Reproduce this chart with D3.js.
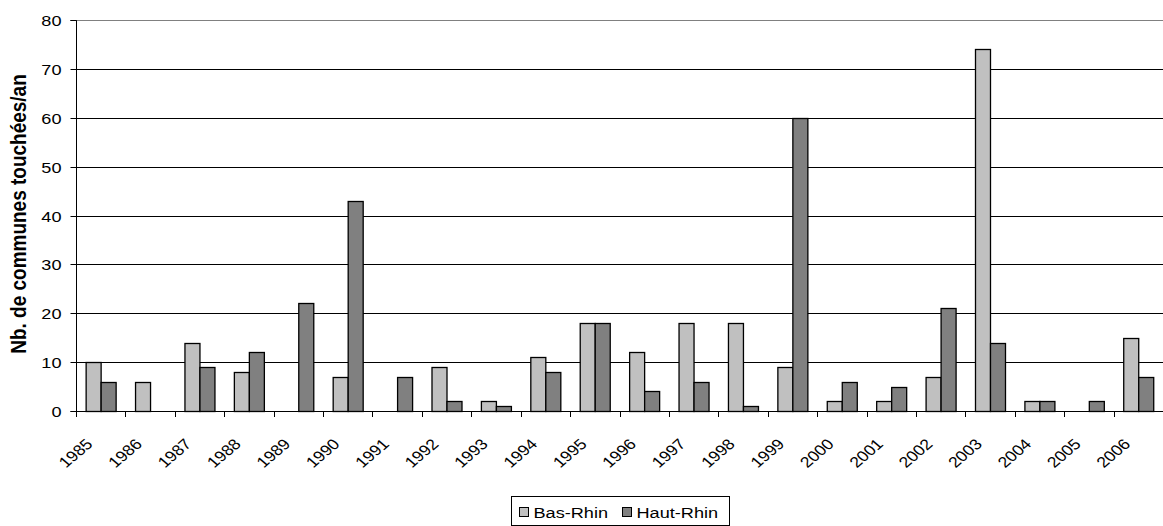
<!DOCTYPE html>
<html><head><meta charset="utf-8">
<script src="https://cdn.jsdelivr.net/npm/d3@7"></script>
<style>body{margin:0;background:#fff}svg{display:block;font-family:"Liberation Sans",Arial,sans-serif}</style>
</head><body><svg id="c" width="1163" height="526"></svg>
<script>
const years = ["1985","1986","1987","1988","1989","1990","1991","1992","1993","1994","1995","1996","1997","1998","1999","2000","2001","2002","2003","2004","2005","2006"];
const basRhin = [10,6,14,8,0,7,0,9,2,11,18,12,18,18,9,2,2,7,74,2,0,15];
const hautRhin = [6,0,9,12,22,43,7,2,1,8,18,4,6,1,60,6,5,21,14,2,2,7];
const seriesNames = ["Bas-Rhin","Haut-Rhin"];
const yTicks = [0,10,20,30,40,50,60,70,80];

const SX = 1.17; // horizontal stretch of the text in the reference
const svg = d3.select("#c");
const L = 76, R = 1163, T = 20, B = 411;
const x = d3.scaleBand().domain(years).range([L, R]).paddingInner(0.39).paddingOuter(0.195);
const xs = d3.scaleBand().domain(seriesNames).range([0, x.bandwidth()]);
const xc = d3.scaleBand().domain(years).range([L, R]);
const y = d3.scaleLinear().domain([0, 80]).range([B, T]);
const colors = {"Bas-Rhin":"#C0C0C0","Haut-Rhin":"#808080"};

// gridlines
svg.append("g").selectAll("line").data(yTicks.filter(d=>d>0)).join("line")
  .attr("x1", L).attr("x2", R).attr("y1", d=>Math.round(y(d))+0.5).attr("y2", d=>Math.round(y(d))+0.5)
  .attr("stroke", d=>d===80?"#808080":"#000").attr("stroke-width", 1);

// bars
const data = years.map((yr,i)=>({yr, vals:[{s:"Bas-Rhin",v:basRhin[i]},{s:"Haut-Rhin",v:hautRhin[i]}]}));
const g = svg.append("g").selectAll("g").data(data).join("g")
  .attr("transform", d=>`translate(${x(d.yr)},0)`);
g.selectAll("rect").data(d=>d.vals.filter(o=>o.v>0)).join("rect")
  .attr("x", d=>Math.round(xs(d.s))+0.5).attr("width", Math.round(xs.bandwidth()))
  .attr("y", d=>Math.round(y(d.v))+0.5).attr("height", d=>Math.round(y(0))-Math.round(y(d.v)))
  .attr("fill", d=>colors[d.s]).attr("stroke", "#000").attr("stroke-width", 1.3);

// y axis
const ya = svg.append("g").attr("transform", `translate(${L+0.5},0.5)`)
  .call(d3.axisLeft(y).tickValues(yTicks).tickSize(6).tickPadding(8));
ya.select(".domain").attr("stroke","#000").attr("d", `M-6,${Math.round(y(80))}H0V${Math.round(y(0))}H-6`);
ya.selectAll(".tick line").attr("stroke","#000");
ya.selectAll(".tick").attr("transform", d=>`translate(0,${Math.round(y(d))})`);
ya.selectAll(".tick text").remove();
ya.selectAll(".tick").append("text")
  .attr("transform", `translate(-15,0) scale(${SX},1)`).attr("dy","0.35em")
  .attr("text-anchor","end").attr("font-size", 15.5).attr("fill","#000")
  .attr("font-family","Liberation Sans, Arial, sans-serif").text(d=>d);

// x axis baseline + ticks at category boundaries
const xa = svg.append("g");
xa.append("line").attr("x1", L).attr("x2", R).attr("y1", B+0.5).attr("y2", B+0.5).attr("stroke","#000");
xa.selectAll("line.t").data(years.concat(["end"])).join("line").attr("class","t")
  .attr("x1", (d,i)=>Math.round(L + i*xc.step())+0.5).attr("x2", (d,i)=>Math.round(L + i*xc.step())+0.5)
  .attr("y1", B).attr("y2", B+6).attr("stroke","#000");
xa.selectAll("text").data(years).join("text")
  .attr("transform", d=>`translate(${xc(d)+xc.bandwidth()/2-7},${B+34}) scale(${SX},1) rotate(-45)`)
  .attr("text-anchor","end").attr("font-size", 15).attr("fill","#000").text(d=>d);

// y title
svg.append("text").attr("transform", `translate(26,${214}) scale(${SX},1) rotate(-90)`)
  .attr("text-anchor","middle").attr("font-size", 19).attr("font-weight","bold").text("Nb. de communes touchées/an");

// legend
const lg = svg.append("g").attr("transform","translate(511.5,496.5)");
lg.append("rect").attr("width", 218).attr("height", 29).attr("fill","#fff").attr("stroke","#000");
const items = [{s:"Bas-Rhin",x:8},{s:"Haut-Rhin",x:111}];
items.forEach(it=>{
  lg.append("rect").attr("x", it.x).attr("y", 11).attr("width", 9).attr("height", 9).attr("fill", colors[it.s]).attr("stroke","#000");
  lg.append("text").attr("transform", `translate(${it.x+14},21) scale(${SX},1)`).attr("font-size", 15.5).text(it.s);
});
</script></body></html>
